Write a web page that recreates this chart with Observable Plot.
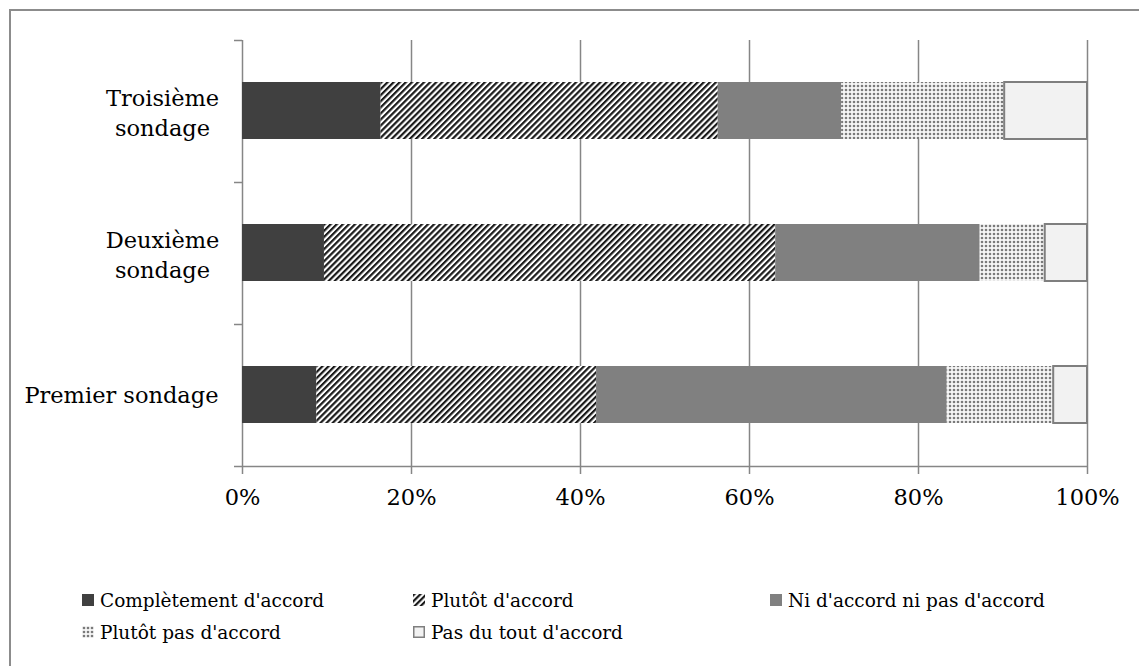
<!DOCTYPE html>
<html>
<head>
<meta charset="utf-8">
<script src="https://cdn.jsdelivr.net/npm/d3@7"></script>
<script src="https://cdn.jsdelivr.net/npm/@observablehq/plot@0.6"></script>
<style>
  html, body { margin: 0; padding: 0; background: #fff; overflow: hidden; }
  #wrap { position: relative; width: 1139px; height: 666px; overflow: hidden; font-family: "DejaVu Serif", serif; }
  #border { position: absolute; left: 9px; top: 9px; width: 1300px; height: 800px; border: 2px solid #8c8c8c; box-sizing: border-box; }
  #chart { position: absolute; left: 0; top: 0; }
  .leg { position: absolute; display: flex; align-items: center; font-size: 18.5px; color: #000; white-space: nowrap; }
  .leg svg { margin-right: 6px; }
</style>
</head>
<body>
<svg width="0" height="0" style="position:absolute">
  <defs>
    <pattern id="diag" patternUnits="userSpaceOnUse" width="4.3" height="4.3" patternTransform="rotate(45)">
      <rect width="4.3" height="4.3" fill="#ffffff"></rect>
      <rect width="2.2" height="4.3" fill="#1a1a1a"></rect>
    </pattern>
    <pattern id="dots" patternUnits="userSpaceOnUse" width="4" height="4">
      <rect width="4" height="4" fill="#f6f6f6"></rect>
      <circle cx="2" cy="2" r="1.3" fill="#7a7a7a"></circle>
    </pattern>
  </defs>
</svg>
<div id="wrap">
  <div id="border"></div>
  <div id="chart"></div>
  <div id="legend"></div>
</div>
<script>
// ---- data ----
const categories = ["Troisième sondage", "Deuxième sondage", "Premier sondage"];
const categoryLabels = ["Troisième\nsondage", "Deuxième\nsondage", "Premier sondage"];
const series = ["Complètement d'accord", "Plutôt d'accord", "Ni d'accord ni pas d'accord", "Plutôt pas d'accord", "Pas du tout d'accord"];
const premier = [8.8, 33.1, 41.5, 12.6, 4.0];
const deuxieme = [9.7, 53.4, 24.2, 7.7, 5.0];
const troisieme = [16.4, 39.9, 14.6, 19.3, 9.8];
const xTicks = [0, 0.2, 0.4, 0.6, 0.8, 1];

const seriesFill = ["#404040", "url(#diag)", "#808080", "url(#dots)", "#f2f2f2"];
const seriesStroke = ["none", "none", "none", "none", "#7f7f7f"];

const valuesByCat = {
  "Premier sondage": premier,
  "Deuxième sondage": deuxieme,
  "Troisième sondage": troisieme
};
const rows = [];
for (const c of ["Premier sondage", "Deuxième sondage", "Troisième sondage"]) {
  valuesByCat[c].forEach((v, i) => rows.push({cat: c, series: series[i], si: i, value: v / 100}));
}

const grey = "#868686";
const plot = Plot.plot({
  width: 1139,
  height: 520,
  marginLeft: 242,
  marginRight: 52,
  marginTop: 40,
  marginBottom: 54,
  style: {fontFamily: "DejaVu Serif", fontSize: "22.5px", background: "transparent", color: "#000"},
  x: {domain: [0, 1], axis: null, label: null},
  y: {domain: categories, padding: 0, axis: null, label: null},
  marks: [
    Plot.ruleX(xTicks, {stroke: grey, strokeWidth: 1.5}),
    Plot.barX(rows, Plot.stackX({
      y: "cat",
      x: "value",
      order: null,
      fill: d => seriesFill[d.si],
      stroke: d => seriesStroke[d.si],
      strokeWidth: 2,
      insetTop: 42,
      insetBottom: 43
    })),
    Plot.ruleY(categories, {y: d => d, x1: 0, x2: 0, insetLeft: -8, dy: -71, stroke: grey, strokeWidth: 1.5}),
    Plot.ruleY(["Premier sondage"], {y: d => d, x1: 0, x2: 1, insetLeft: -8, dy: 71, stroke: grey, strokeWidth: 1.5}),
    Plot.axisX(xTicks, {anchor: "bottom", label: null, tickSize: 8, tickPadding: 15, stroke: grey, strokeWidth: 1.5, fill: "#000", tickFormat: d => Math.round(d * 100) + "%"}),
    Plot.text(categories.slice(0, 2), {y: d => d, text: d => categoryLabels[categories.indexOf(d)], frameAnchor: "left", dx: -80, textAnchor: "middle", lineHeight: 1.33, fill: "#000"}),
    Plot.text(categories.slice(2), {y: d => d, text: d => categoryLabels[categories.indexOf(d)], frameAnchor: "left", dx: -24, textAnchor: "end", fill: "#000"})
  ],
  color: {type: "identity"}
});
document.getElementById("chart").appendChild(plot);

// ---- legend ----
const legPos = [[82, 600], [413, 600], [770, 600], [82, 632], [413, 632]];
const legend = document.getElementById("legend");
series.forEach((s, i) => {
  const div = document.createElement("div");
  div.className = "leg";
  div.style.left = legPos[i][0] + "px";
  div.style.top = (legPos[i][1] - 13) + "px";
  div.style.height = "26px";
  const sw = `<svg width="12" height="12"><rect x="${i === 4 ? 0.75 : 0}" y="${i === 4 ? 0.75 : 0}" width="${i === 4 ? 10.5 : 12}" height="${i === 4 ? 10.5 : 12}" fill="${seriesFill[i]}" stroke="${seriesStroke[i]}" stroke-width="1.5"></rect></svg>`;
  div.innerHTML = sw + "<span></span>";
  div.querySelector("span").textContent = s;
  legend.appendChild(div);
});
</script>
</body>
</html>
